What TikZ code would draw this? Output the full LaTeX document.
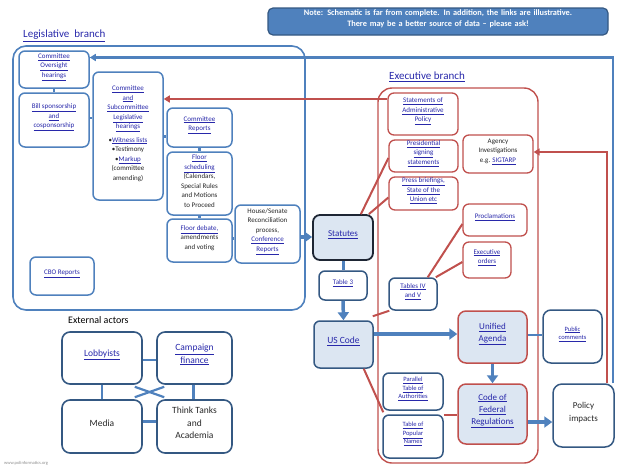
\documentclass[tikz,border=0pt]{standalone}
\usepackage{fontspec}
\setmainfont{Carlito}
\usetikzlibrary{fit,arrows.meta,calc}
\definecolor{legblue}{RGB}{79,129,189}
\definecolor{slate}{RGB}{52,88,130}
\definecolor{exred}{RGB}{192,80,77}
\definecolor{fillb}{RGB}{220,230,242}
\definecolor{lnk}{RGB}{40,40,170}
\definecolor{notefill}{RGB}{79,129,189}
\definecolor{noteline}{RGB}{52,88,130}
\definecolor{darkb}{RGB}{30,38,52}
\definecolor{txt}{RGB}{40,40,40}
\newcommand\fsz[2]{\fontsize{#1}{#2}\selectfont}
\newcommand\lk[1]{\textcolor{lnk}{\underline{#1}}}
\tikzset{
  base/.style={inner sep=0pt, align=center, text=txt, fill=white},
  lbox/.style={base, draw=legblue, line width=1.5pt, rounded corners=6pt, font=\fsz{7}{9.5}},
  rbox/.style={base, draw=exred, line width=1.3pt, rounded corners=6pt, font=\fsz{7}{9.5}},
  dbox/.style={base, draw=slate, line width=1.5pt, rounded corners=6pt, font=\fsz{7}{9.5}},
  extbox/.style={base, draw=slate, line width=1.6pt, rounded corners=8pt, font=\fsz{9.5}{12.5}},
  conn/.style={draw=legblue, line width=2.2pt},
  rconn/.style={draw=exred, line width=2pt},
  bigarrow/.style={draw=legblue, line width=3.5pt, -{Triangle[length=8pt,width=11pt]}},
  medarrow/.style={draw=legblue, line width=2.2pt, -{Triangle[length=6pt,width=7pt]}},
  redarrow/.style={draw=exred, line width=2pt, -{Triangle[length=6pt,width=7pt]}},
}
\begin{document}
\begin{tikzpicture}[x=1pt,y=-1pt]
\useasboundingbox (0,0) rectangle (617,466);
% note
\node[fit={(268,8)(608,35)}, inner sep=0pt, draw=noteline, fill=notefill, line width=1.2pt, rounded corners=5pt, text=white, font=\fsz{8.3}{11}\bfseries, align=center] (note) {Note: Schematic is far from complete. In addition, the links are illustrative.\\There may be a better source of data -- please ask!};
% titles
\node[anchor=west, inner sep=0pt, font=\fsz{11}{13}] (legt) at (23,36) {\lk{Legislative\ \ branch}};
\node[anchor=west, inner sep=0pt, font=\fsz{11}{13}] (exet) at (389,77) {\lk{Executive branch}};
\node[anchor=west, inner sep=0pt, font=\fsz{10}{12}, text=black] (extt) at (68,320) {External actors};
\node[anchor=west, inner sep=0pt, font=\fsz{4.5}{5}, text=black!45] (foot) at (4,463) {www.polinformatics.org};
% containers
\node[fit={(13,46)(305,310)}, inner sep=0pt, draw=legblue, line width=1.6pt, rounded corners=13pt] (leg) {};
\node[fit={(378,88)(538,463)}, inner sep=0pt, draw=exred, line width=1.4pt, rounded corners=14pt] (exe) {};
% legislative nodes
\node[lbox, fit={(19,51)(89,88)}] (coh) {\lk{Committee}\\\lk{Oversight}\\\lk{hearings}};
\node[lbox, fit={(19,93)(89,147)}] (bill) {\lk{Bill sponsorship}\\\lk{and}\\\lk{cosponsorship}};
\node[lbox, fit={(93,72)(163,200)}] (csc) {\lk{Committee}\\\lk{and}\\\lk{Subcommittee}\\\lk{Legislative}\\\lk{hearings}\\[4pt]•\lk{Witness lists}\\•Testimony\\•\lk{Markup}\\(committee\\amending)};
\node[lbox, fit={(167,108)(232,147)}] (cr) {\lk{Committee}\\\lk{Reports}};
\node[lbox, fit={(167,152)(232,215)}] (fs) {\lk{Floor}\\\lk{scheduling}\\(Calendars,\\Special Rules\\and Motions\\to Proceed};
\node[lbox, fit={(167,219)(232,262)}] (fd) {\lk{Floor debate,}\\amendments\\and voting};
\node[lbox, fit={(235,205)(300,263)}] (hs) {House/Senate\\Reconciliation\\process,\\\lk{Conference}\\\lk{Reports}};
\node[lbox, fit={(30,257)(94,295)}] (cbo) {\lk{CBO Reports}};
% statutes / code
\node[base, fit={(313,215)(373,260)}, draw=darkb, fill=fillb, line width=1.8pt, rounded corners=7pt, font=\fsz{9}{11}] (st) {\lk{Statutes}};
\node[dbox, fit={(319,271)(367,300)}] (t3) {\lk{Table 3}};
\node[dbox, fit={(314,321)(373,368)}, fill=fillb, font=\fsz{9.5}{12}] (us) {\lk{US Code}};
% executive nodes
\node[rbox, fit={(388,93)(458,135)}] (sap) {\lk{Statements of}\\\lk{Administrative}\\\lk{Policy}};
\node[rbox, fit={(389,140)(458,172)}] (pss) {\lk{Presidential}\\\lk{signing}\\\lk{statements}};
\node[rbox, fit={(389,177)(458,210)}] (pb) {\lk{Press briefings,}\\\lk{State of the}\\\lk{Union etc}};
\node[rbox, fit={(463,135)(533,173)}] (ai) {Agency\\Investigations\\e.g. \lk{SIGTARP}};
\node[rbox, fit={(463,204)(527,236)}] (proc) {\lk{Proclamations}};
\node[rbox, fit={(463,242)(511,278)}] (eo) {\lk{Executive}\\\lk{orders}};
\node[dbox, fit={(389,278)(437,310)}] (t45) {\lk{Tables IV}\\\lk{and V}};
\node[rbox, fit={(458,311)(527,363)}, fill=fillb, line width=1.5pt, rounded corners=8pt, font=\fsz{9}{12}] (ua) {\lk{Unified}\\\lk{Agenda}};
\node[rbox, fit={(458,384)(527,444)}, fill=fillb, line width=1.5pt, rounded corners=8pt, font=\fsz{9}{12}] (cfr) {\lk{Code of}\\\lk{Federal}\\\lk{Regulations}};
\node[dbox, fit={(383,373)(443,410)}, font=\fsz{6.5}{8.5}] (pta) {\lk{Parallel}\\\lk{Table of}\\\lk{Authorities}};
\node[dbox, fit={(383,415)(443,458)}, font=\fsz{6.5}{8.5}] (tpn) {\lk{Table of}\\\lk{Popular}\\\lk{Names}};
% right side
\node[dbox, fit={(543,310)(602,363)}, rounded corners=8pt, font=\fsz{6.5}{8.5}] (pc) {\lk{Public}\\\lk{comments}};
\node[dbox, fit={(553,384)(614,447)}, rounded corners=9pt, font=\fsz{9}{12.5}] (pi) {Policy\\impacts};
% external actors
\node[extbox, fit={(62,332)(142,384)}] (lob) {\lk{Lobbyists}};
\node[extbox, fit={(157,332)(232,384)}] (camp) {\lk{Campaign}\\\lk{finance}};
\node[extbox, fit={(62,400)(142,453)}] (med) {Media};
\node[extbox, fit={(157,400)(232,453)}] (tt) {Think Tanks\\and\\Academia};
% legislative connectors
\draw[conn] (coh.south) -- (coh.south |- bill.north);
\draw[conn] ([yshift=2pt]bill.east) -- ([yshift=2pt]bill.east -| csc.west);
\draw[conn] ([yshift=-9pt]cr.west -| csc.east) -- ([yshift=-9pt]cr.west);
\draw[conn] (cr.south) -- (fs.north);
\draw[conn] (fs.south) -- (fd.north);
\draw[conn] ([yshift=2pt]fd.east) -- ([yshift=2pt]fd.east -| hs.west);
\draw[bigarrow] ([yshift=-3pt]hs.east) -- ([yshift=-3pt]hs.east -| st.west);
\draw[conn, line width=3pt] (st.south) -- (t3.north);
\draw[bigarrow] (t3.south) -- (us.north);
% executive connectors
\coordinate (sapIn) at ([yshift=15pt]sap.west);
\draw[redarrow] (sapIn) -- (sapIn -| csc.east);
\draw[rconn] ([xshift=-13pt]st.north east) -- ([yshift=-2pt]pss.west);
\draw[rconn] ([xshift=-5pt]st.north east) -- ([yshift=-4pt]pb.west);
\draw[rconn] ([xshift=-10pt]t45.north east) -- ([yshift=-4pt]proc.west);
\draw[rconn] ([xshift=-2pt]t45.north east) -- ([yshift=-2pt]eo.west);
\draw[rconn] ([xshift=-1pt,yshift=4pt]us.north east) -- ([xshift=1pt]t45.south west);
\draw[rconn] ([xshift=-10pt]us.south east) -- ([xshift=1pt,yshift=2pt]tpn.north west);
\draw[rconn] ([yshift=-1pt]tpn.north east) -- ([yshift=-1pt]tpn.north east -| cfr.west);
\draw[bigarrow] ([yshift=3pt]ua.west -| us.east) -- ([yshift=3pt]ua.west);
\draw[conn] ([yshift=2pt]ua.east) -- ([yshift=2pt]ua.east -| pc.west);
\draw[bigarrow] (ua.south) -- (cfr.north);
\draw[bigarrow] ([yshift=-8pt]cfr.east) -- ([yshift=-8pt]cfr.east -| pi.west);
% feedback lines
\coordinate (piB) at ([xshift=-2pt]pi.north east);
\coordinate (cohIn) at ([yshift=12pt]coh.east);
\draw[medarrow] (piB) |- (cohIn);
\coordinate (piR) at ([xshift=-8pt]pi.north east);
\coordinate (aiIn) at ([yshift=2pt]ai.east);
\draw[redarrow] (piR) |- (aiIn);
% external connectors
\draw[conn] ([yshift=-2pt]lob.east) -- ([yshift=-2pt]lob.east -| camp.west);
\draw[conn] ([yshift=5pt]med.east) -- ([yshift=5pt]med.east -| tt.west);
\draw[conn] (lob.south) -- (med.north);
\draw[conn] ([xshift=-1pt]camp.south) -- ([xshift=-1pt]tt.north);
\draw[conn] ([xshift=-8pt,yshift=-2pt]lob.south east) -- ([xshift=8pt,yshift=2pt]tt.north west);
\draw[conn] ([xshift=8pt,yshift=-2pt]camp.south west) -- ([xshift=-8pt,yshift=2pt]med.north east);
\end{tikzpicture}
\end{document}
